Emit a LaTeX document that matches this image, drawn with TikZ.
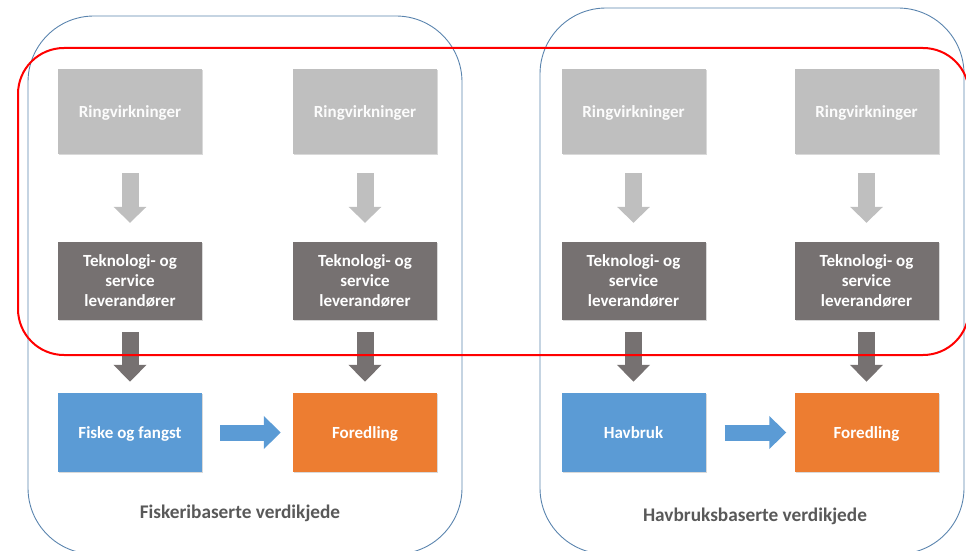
\documentclass[tikz,border=0pt]{standalone}
\usepackage{fontspec}
\setmainfont{Carlito}
\usetikzlibrary{arrows.meta,shadows,calc}
\definecolor{lgray}{HTML}{BFBFBF}
\definecolor{dgray}{HTML}{767171}
\definecolor{mblue}{HTML}{5B9BD5}
\definecolor{morange}{HTML}{ED7D31}
\definecolor{framecol}{HTML}{5A84AE}
\definecolor{labelgray}{HTML}{595959}
\definecolor{redline}{HTML}{FF0000}
\begin{document}
\begin{tikzpicture}[x=1pt,y=-1pt,
  box/.style={minimum width=144pt, inner sep=0pt, align=center, text=white,
    font=\bfseries\fontsize{17}{20}\selectfont,
    drop shadow={shadow xshift=1.3pt, shadow yshift=-1.3pt, opacity=0.3}},
  oneline/.style={text height=11pt, text depth=0pt},
  ringbox/.style={box, oneline, fill=lgray, minimum height=85pt, text=white!95!lgray},
  tekbox/.style={box, fill=dgray, minimum height=78pt},
  bluebox/.style={box, oneline, fill=mblue, minimum height=79pt},
  orangebox/.style={box, oneline, fill=morange, minimum height=79pt},
  larrow/.style={draw=lgray, line width=17pt, -{Triangle[width=32pt,length=16pt]}},
  darrow/.style={draw=dgray, line width=17pt, -{Triangle[width=32pt,length=17pt]}},
  barrow/.style={draw=mblue, line width=16pt, -{Triangle[width=32pt,length=17pt]}},
  group/.style={draw=framecol, line width=0.9pt, rounded corners=66pt},
  chainlabel/.style={text=labelgray, font=\bfseries\fontsize{19.3}{23}\selectfont}
]
\useasboundingbox (0,0) rectangle (966,551);

% group frames
\draw[group] (28,16) rectangle (462,554);
\draw[group] (540,8) rectangle (964,554);

% columns
\foreach \i/\cx in {1/130,2/365,3/633.5,4/866.5}{
  \node[ringbox] (r\i) at (\cx,111.5) {Ringvirkninger};
  \node[tekbox] (t\i) at (\cx,281) {Teknologi- og\\service\\leverandører};
}
\node[bluebox] (f1) at (130,432.5) {Fiske og fangst};
\node[orangebox] (g1) at (365,432.5) {Foredling};
\node[bluebox] (f2) at (633.5,432.5) {Havbruk};
\node[orangebox] (g2) at (866.5,432.5) {Foredling};

% arrows
\foreach \i in {1,2,3,4}{
  \draw[larrow] ($(r\i.south)+(0pt,-19pt)$) -- ($(t\i.north)+(0pt,19pt)$);
}
\draw[darrow] ($(t1.south)+(0pt,-12pt)$) -- ($(f1.north)+(0pt,11pt)$);
\draw[darrow] ($(t2.south)+(0pt,-12pt)$) -- ($(g1.north)+(0pt,11pt)$);
\draw[darrow] ($(t3.south)+(0pt,-12pt)$) -- ($(f2.north)+(0pt,11pt)$);
\draw[darrow] ($(t4.south)+(0pt,-12pt)$) -- ($(g2.north)+(0pt,11pt)$);
\draw[barrow] ($(f1.east)+(18pt,0pt)$) -- ($(g1.west)+(-12pt,0pt)$);
\draw[barrow] ($(f2.east)+(19pt,0pt)$) -- ($(g2.west)+(-8pt,0pt)$);

% labels
\node[chainlabel] (l1) at (240,513) {Fiskeribaserte verdikjede};
\node[chainlabel] (l2) at (755,516) {Havbruksbaserte verdikjede};

% red highlight
\draw[redline, line width=2pt, rounded corners=46pt] (18,48) rectangle (969,355);
\end{tikzpicture}
\end{document}
